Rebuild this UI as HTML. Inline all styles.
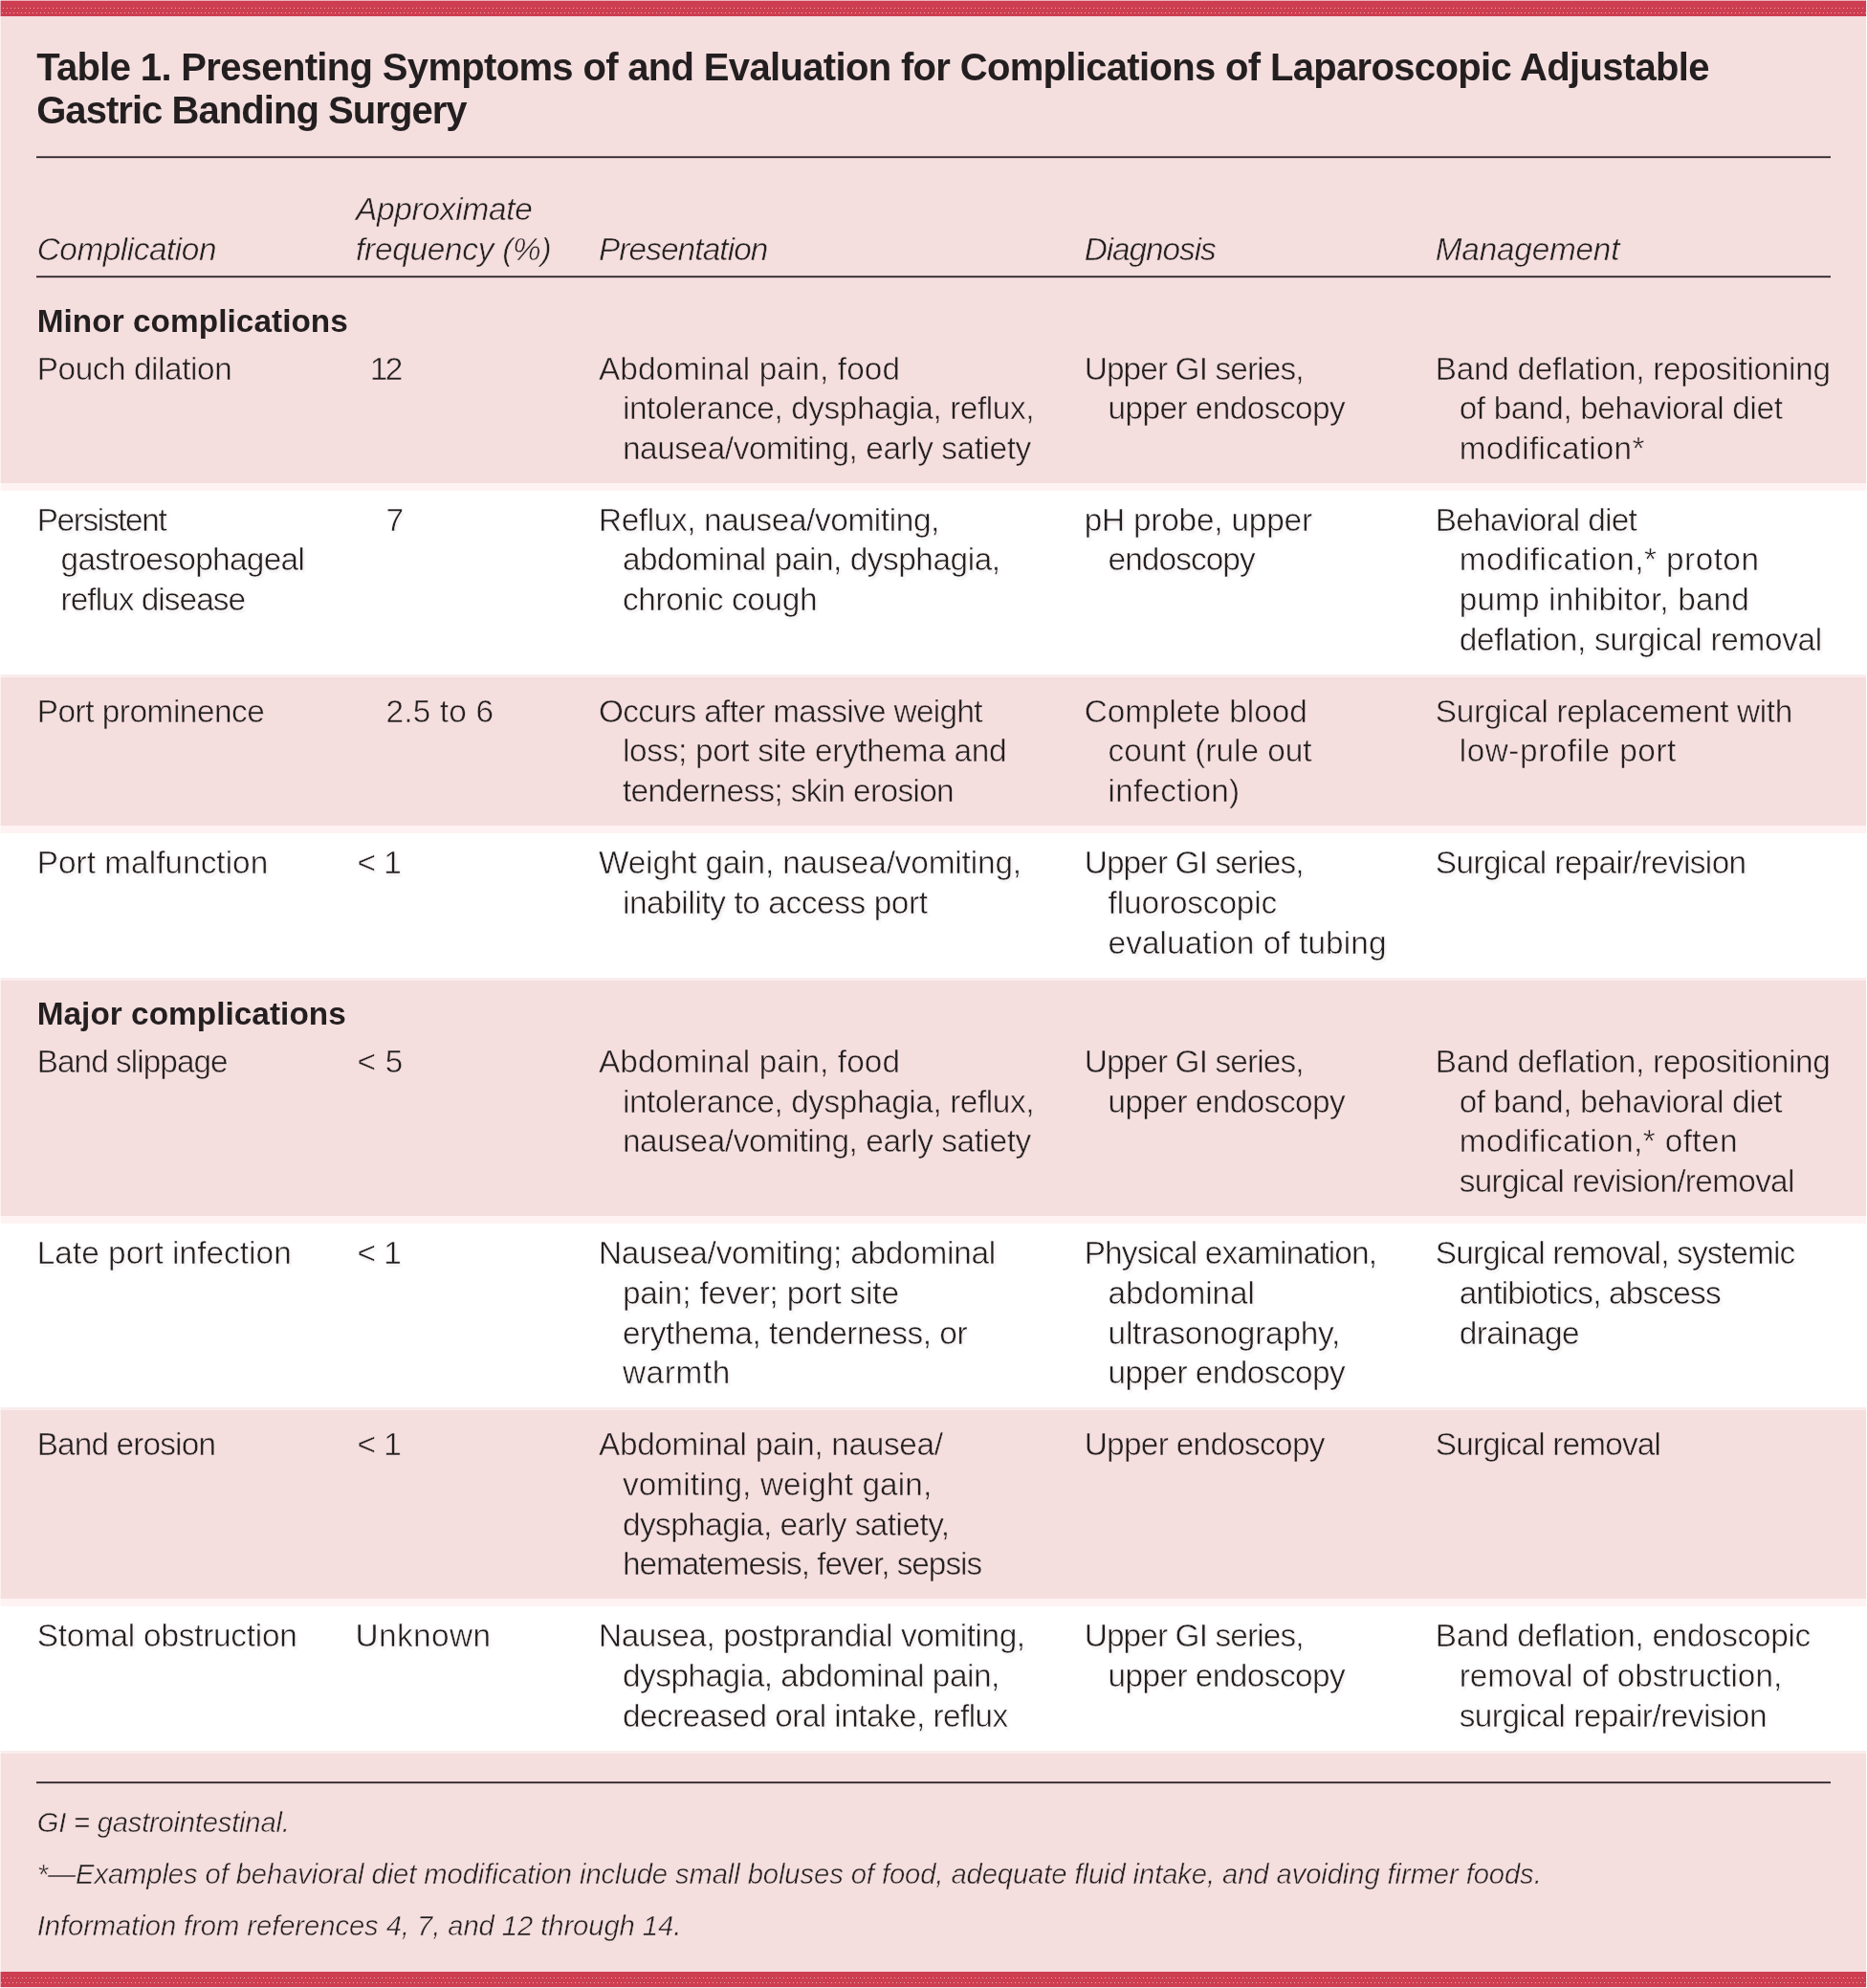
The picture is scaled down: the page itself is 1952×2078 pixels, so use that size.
<!DOCTYPE html>
<html lang="en"><head><meta charset="utf-8">
<title>Table 1. Complications of Laparoscopic Adjustable Gastric Banding Surgery</title>
<style>
*{box-sizing:border-box;margin:0;padding:0}
html,body{width:1952px;height:2078px;background:#f5dede}
body{overflow:hidden}
body{font-family:"Liberation Sans",sans-serif;color:#231f20;font-size:33.33px;line-height:41.6px;position:relative}
.fig{position:relative;width:1952px;height:2078px;background:#f5dede}
.bar{height:17px;background:
 linear-gradient(90deg,transparent 3px,#e9a6ae 3px) repeat-x 4px 8px/4px 1px,
 linear-gradient(90deg,transparent 2px,#e9a6ae 2px,#e9a6ae 3px,transparent 3px) repeat-x 4px 13px/4px 1px,
 linear-gradient(#cd3e50,#cd3e50) no-repeat 0 1px/100% 16px, #eab4bb}
.bar.bot{position:absolute;left:0;top:2061px;width:1952px;background:
 linear-gradient(90deg,transparent 3px,#e9a6ae 3px) repeat-x 8px 6px/4px 1px,
 linear-gradient(90deg,transparent 1px,#e9a6ae 1px,#e9a6ae 2px,transparent 2px) repeat-x 4px 11px/4px 1px,
 linear-gradient(#cd3e50,#cd3e50) no-repeat 0 0/100% 16px, #f8e6e8}
h1{height:146px;padding:31.2px 0 0 38.2px;font-size:40px;line-height:45.2px;font-weight:700;white-space:nowrap}
.l{display:block;white-space:nowrap}
.rule{height:3px;margin:0 38px -1px;background:linear-gradient(#6f6266 1px,#2a2327 1px,#2a2327 2px,#d6bfc1 2px)}
table{width:1952px;border-collapse:separate;border-spacing:0;table-layout:fixed}
th,td{vertical-align:top;text-align:left;font-weight:400;padding:0}
thead th{height:123px;vertical-align:bottom;font-style:italic;padding-bottom:6.85px}
tr.rl td{height:2px;line-height:0;font-size:0;overflow:visible}
tr.sect th{font-weight:700}
.c0{padding-left:38.7px}
.c1{padding-left:0.5px}
.c2{padding-left:1.0px}
.c3{padding-left:0.7px}
.c4{padding-left:0.8px}
td .l + .l{margin-left:24.9px}
tr.w td{background:#fff;border-top:8px solid #fef3f2}
tr.p td, tr.sect.a th{border-top:3px solid #f9ecec}
tfoot td{border-top:3px solid #f9ecec;padding-top:29px;height:231px;font-style:italic;font-size:29.17px;line-height:54px}
tfoot td .l, tfoot td .l + .l{margin-left:38.7px}
tfoot .rule{margin-bottom:12.7px}
.l{-webkit-text-stroke:0.5px #f5dede}
tr.w .l{-webkit-text-stroke-color:#fff;text-shadow:2px 3px 2px rgba(70,50,50,.05),0 0 3px rgba(245,190,190,.28)}
h1 .l, tr.sect .l{-webkit-text-stroke-width:0.0px}
h1,table{will-change:transform}
.edge{position:absolute;background:rgba(255,255,255,.55);pointer-events:none}
</style></head>
<body>
<div class="fig">
<div class="bar"></div>
<h1>
<span class="l" style="letter-spacing:-0.666px">Table 1. Presenting Symptoms of and Evaluation for Complications of Laparoscopic Adjustable</span>
<span class="l" style="letter-spacing:-0.949px">Gastric Banding Surgery</span>
</h1>
<div class="rule"></div>
<table>
<colgroup>
<col style="width:372px">
<col style="width:253px">
<col style="width:508px">
<col style="width:367px">
<col style="width:452px">
</colgroup>
<thead>
<tr>
<th class="c0" scope="col"><span class="l" style="letter-spacing:-0.446px">Complication</span></th>
<th class="c1" scope="col"><span class="l" style="letter-spacing:-0.226px;margin-left:-0.5px">Approximate</span><span class="l" style="letter-spacing:-0.238px;margin-left:-0.5px">frequency (%)</span></th>
<th class="c2" scope="col"><span class="l" style="letter-spacing:-0.890px">Presentation</span></th>
<th class="c3" scope="col"><span class="l" style="letter-spacing:-1.035px">Diagnosis</span></th>
<th class="c4" scope="col"><span class="l" style="letter-spacing:-0.208px">Management</span></th>
</tr>
<tr class="rl"><td colspan="5"><div class="rule"></div></td></tr>
</thead>
<tbody>
<tr class="sect"><th colspan="5" scope="rowgroup" class="c0" style="height:66.80px;padding-top:25.20px"><span class="l" style="letter-spacing:0.060px">Minor complications</span></th></tr>
<tr class="p0">
<td class="c0" style="height:148.20px;padding-top:7.90px"><span class="l" style="letter-spacing:-0.411px">Pouch dilation</span></td>
<td class="c1" style="height:148.20px;padding-top:7.90px"><span class="l" style="letter-spacing:-2.536px;margin-left:14.3px">12</span></td>
<td class="c2" style="height:148.20px;padding-top:7.90px"><span class="l" style="letter-spacing:0.095px">Abdominal pain, food</span><span class="l" style="letter-spacing:-0.408px">intolerance, dysphagia, reflux,</span><span class="l" style="letter-spacing:-0.403px">nausea/vomiting, early satiety</span></td>
<td class="c3" style="height:148.20px;padding-top:7.90px"><span class="l" style="letter-spacing:-0.859px">Upper GI series,</span><span class="l" style="letter-spacing:-0.539px">upper endoscopy</span></td>
<td class="c4" style="height:148.20px;padding-top:7.90px"><span class="l" style="letter-spacing:-0.263px">Band deflation, repositioning</span><span class="l" style="letter-spacing:-0.358px">of band, behavioral diet</span><span class="l" style="letter-spacing:0.239px">modification*</span></td>
</tr>
<tr class="w">
<td class="c0" style="height:200.00px;padding-top:9.90px"><span class="l" style="letter-spacing:-1.347px">Persistent</span><span class="l" style="letter-spacing:-0.645px">gastroesophageal</span><span class="l" style="letter-spacing:-0.938px">reflux disease</span></td>
<td class="c1" style="height:200.00px;padding-top:9.90px"><span class="l" style="letter-spacing:0.000px;margin-left:31.0px">7</span></td>
<td class="c2" style="height:200.00px;padding-top:9.90px"><span class="l" style="letter-spacing:-0.373px">Reflux, nausea/vomiting,</span><span class="l" style="letter-spacing:-0.425px">abdominal pain, dysphagia,</span><span class="l" style="letter-spacing:-0.331px">chronic cough</span></td>
<td class="c3" style="height:200.00px;padding-top:9.90px"><span class="l" style="letter-spacing:-0.183px">pH probe, upper</span><span class="l" style="letter-spacing:-0.893px">endoscopy</span></td>
<td class="c4" style="height:200.00px;padding-top:9.90px"><span class="l" style="letter-spacing:-0.672px">Behavioral diet</span><span class="l" style="letter-spacing:0.470px">modification,* proton</span><span class="l" style="letter-spacing:0.156px">pump inhibitor, band</span><span class="l" style="letter-spacing:-0.295px">deflation, surgical removal</span></td>
</tr>
<tr class="p">
<td class="c0" style="height:158.00px;padding-top:14.70px"><span class="l" style="letter-spacing:-0.456px">Port prominence</span></td>
<td class="c1" style="height:158.00px;padding-top:14.70px"><span class="l" style="letter-spacing:0.179px;margin-left:31.0px">2.5 to 6</span></td>
<td class="c2" style="height:158.00px;padding-top:14.70px"><span class="l" style="letter-spacing:-0.655px">Occurs after massive weight</span><span class="l" style="letter-spacing:-0.287px">loss; port site erythema and</span><span class="l" style="letter-spacing:-0.631px">tenderness; skin erosion</span></td>
<td class="c3" style="height:158.00px;padding-top:14.70px"><span class="l" style="letter-spacing:-0.031px">Complete blood</span><span class="l" style="letter-spacing:0.000px">count (rule out</span><span class="l" style="letter-spacing:0.263px">infection)</span></td>
<td class="c4" style="height:158.00px;padding-top:14.70px"><span class="l" style="letter-spacing:-0.340px">Surgical replacement with</span><span class="l" style="letter-spacing:0.539px">low-profile port</span></td>
</tr>
<tr class="w">
<td class="c0" style="height:159.00px;padding-top:10.50px"><span class="l" style="letter-spacing:0.048px">Port malfunction</span></td>
<td class="c1" style="height:159.00px;padding-top:10.50px"><span class="l" style="letter-spacing:-0.411px;margin-left:0.9px">&lt; 1</span></td>
<td class="c2" style="height:159.00px;padding-top:10.50px"><span class="l" style="letter-spacing:-0.136px">Weight gain, nausea/vomiting,</span><span class="l" style="letter-spacing:-0.383px">inability to access port</span></td>
<td class="c3" style="height:159.00px;padding-top:10.50px"><span class="l" style="letter-spacing:-0.859px">Upper GI series,</span><span class="l" style="letter-spacing:-0.107px">fluoroscopic</span><span class="l" style="letter-spacing:0.093px">evaluation of tubing</span></td>
<td class="c4" style="height:159.00px;padding-top:10.50px"><span class="l" style="letter-spacing:-0.593px">Surgical repair/revision</span></td>
</tr>
<tr class="sect a"><th colspan="5" scope="rowgroup" class="c0" style="height:58.80px;padding-top:14.20px"><span class="l" style="letter-spacing:0.045px">Major complications</span></th></tr>
<tr class="p0">
<td class="c0" style="height:190.20px;padding-top:8.50px"><span class="l" style="letter-spacing:-0.943px">Band slippage</span></td>
<td class="c1" style="height:190.20px;padding-top:8.50px"><span class="l" style="letter-spacing:0.289px;margin-left:0.9px">&lt; 5</span></td>
<td class="c2" style="height:190.20px;padding-top:8.50px"><span class="l" style="letter-spacing:0.095px">Abdominal pain, food</span><span class="l" style="letter-spacing:-0.408px">intolerance, dysphagia, reflux,</span><span class="l" style="letter-spacing:-0.403px">nausea/vomiting, early satiety</span></td>
<td class="c3" style="height:190.20px;padding-top:8.50px"><span class="l" style="letter-spacing:-0.859px">Upper GI series,</span><span class="l" style="letter-spacing:-0.539px">upper endoscopy</span></td>
<td class="c4" style="height:190.20px;padding-top:8.50px"><span class="l" style="letter-spacing:-0.270px">Band deflation, repositioning</span><span class="l" style="letter-spacing:-0.375px">of band, behavioral diet</span><span class="l" style="letter-spacing:0.383px">modification,* often</span><span class="l" style="letter-spacing:-0.668px">surgical revision/removal</span></td>
</tr>
<tr class="w">
<td class="c0" style="height:200.00px;padding-top:10.40px"><span class="l" style="letter-spacing:0.060px">Late port infection</span></td>
<td class="c1" style="height:200.00px;padding-top:10.40px"><span class="l" style="letter-spacing:-0.411px;margin-left:0.9px">&lt; 1</span></td>
<td class="c2" style="height:200.00px;padding-top:10.40px"><span class="l" style="letter-spacing:-0.213px">Nausea/vomiting; abdominal</span><span class="l" style="letter-spacing:-0.174px">pain; fever; port site</span><span class="l" style="letter-spacing:-0.430px">erythema, tenderness, or</span><span class="l" style="letter-spacing:0.635px">warmth</span></td>
<td class="c3" style="height:200.00px;padding-top:10.40px"><span class="l" style="letter-spacing:-0.803px">Physical examination,</span><span class="l" style="letter-spacing:-0.048px">abdominal</span><span class="l" style="letter-spacing:-0.202px">ultrasonography,</span><span class="l" style="letter-spacing:-0.539px">upper endoscopy</span></td>
<td class="c4" style="height:200.00px;padding-top:10.40px"><span class="l" style="letter-spacing:-0.799px">Surgical removal, systemic</span><span class="l" style="letter-spacing:-0.796px">antibiotics, abscess</span><span class="l" style="letter-spacing:-0.554px">drainage</span></td>
</tr>
<tr class="p">
<td class="c0" style="height:200.00px;padding-top:15.40px"><span class="l" style="letter-spacing:-0.834px">Band erosion</span></td>
<td class="c1" style="height:200.00px;padding-top:15.40px"><span class="l" style="letter-spacing:-0.411px;margin-left:0.9px">&lt; 1</span></td>
<td class="c2" style="height:200.00px;padding-top:15.40px"><span class="l" style="letter-spacing:-0.310px">Abdominal pain, nausea/</span><span class="l" style="letter-spacing:0.137px">vomiting, weight gain,</span><span class="l" style="letter-spacing:-0.538px">dysphagia, early satiety,</span><span class="l" style="letter-spacing:-1.032px">hematemesis, fever, sepsis</span></td>
<td class="c3" style="height:200.00px;padding-top:15.40px"><span class="l" style="letter-spacing:-0.677px">Upper endoscopy</span></td>
<td class="c4" style="height:200.00px;padding-top:15.40px"><span class="l" style="letter-spacing:-0.800px">Surgical removal</span></td>
</tr>
<tr class="w">
<td class="c0" style="height:159.00px;padding-top:10.50px"><span class="l" style="letter-spacing:-0.228px">Stomal obstruction</span></td>
<td class="c1" style="height:159.00px;padding-top:10.50px"><span class="l" style="letter-spacing:0.415px;margin-left:-0.9px">Unknown</span></td>
<td class="c2" style="height:159.00px;padding-top:10.50px"><span class="l" style="letter-spacing:-0.398px">Nausea, postprandial vomiting,</span><span class="l" style="letter-spacing:-0.457px">dysphagia, abdominal pain,</span><span class="l" style="letter-spacing:-0.551px">decreased oral intake, reflux</span></td>
<td class="c3" style="height:159.00px;padding-top:10.50px"><span class="l" style="letter-spacing:-0.859px">Upper GI series,</span><span class="l" style="letter-spacing:-0.539px">upper endoscopy</span></td>
<td class="c4" style="height:159.00px;padding-top:10.50px"><span class="l" style="letter-spacing:-0.315px">Band deflation, endoscopic</span><span class="l" style="letter-spacing:0.019px">removal of obstruction,</span><span class="l" style="letter-spacing:-0.508px">surgical repair/revision</span></td>
</tr>
</tbody>
<tfoot><tr><td colspan="5"><div class="rule"></div>
<span class="l" style="letter-spacing:-0.196px">GI = gastrointestinal.</span>
<span class="l" style="letter-spacing:-0.072px">*—Examples of behavioral diet modification include small boluses of food, adequate fluid intake, and avoiding firmer foods.</span>
<span class="l" style="letter-spacing:-0.044px">Information from references 4, 7, and 12 through 14.</span>
</td></tr></tfoot>
</table>
<div class="bar bot"></div>
<div class="edge" style="left:0;top:0;width:1px;height:2078px"></div><div class="edge" style="left:1951px;top:0;width:1px;height:2078px;background:rgba(255,255,255,.9)"></div>
</div>
</body></html>
